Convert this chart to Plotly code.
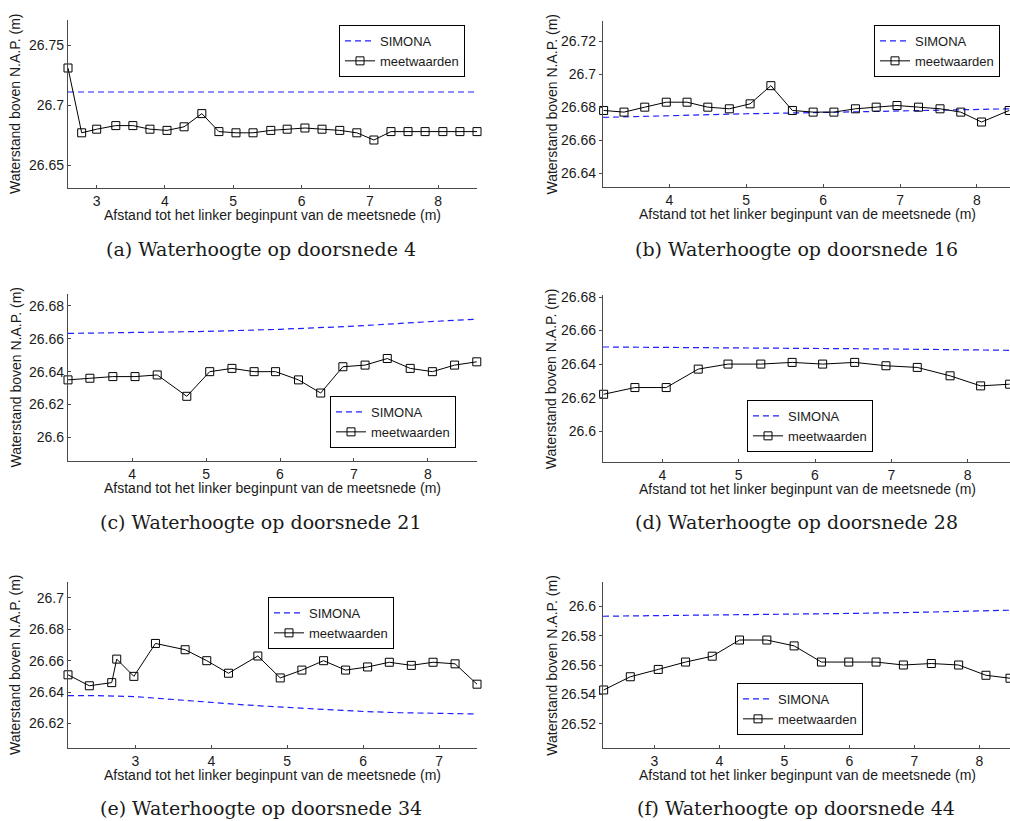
import plotly.graph_objects as go

# ---------------------------------------------------------------- data
# (a) doorsnede 4
a_x = [2.58, 2.78, 3.00, 3.28, 3.53, 3.78, 4.03, 4.28, 4.54, 4.79, 5.04, 5.29, 5.55,
       5.79, 6.05, 6.30, 6.56, 6.81, 7.06, 7.31, 7.56, 7.81, 8.07, 8.32, 8.57]
a_meet = [26.731, 26.677, 26.680, 26.683, 26.683, 26.680, 26.679, 26.682, 26.693, 26.678,
          26.677, 26.677, 26.679, 26.680, 26.681, 26.680, 26.679, 26.677, 26.671, 26.678,
          26.678, 26.678, 26.678, 26.678, 26.678]
a_sim_x = [2.58, 8.57]
a_sim = [26.711, 26.711]

# (b) doorsnede 16
b_x = [3.145, 3.41, 3.68, 3.96, 4.23, 4.50, 4.78, 5.05, 5.32, 5.60, 5.87, 6.14, 6.42,
       6.69, 6.96, 7.24, 7.52, 7.79, 8.06, 8.42]
b_meet = [26.678, 26.677, 26.680, 26.683, 26.683, 26.680, 26.679, 26.682, 26.693, 26.678,
          26.677, 26.677, 26.679, 26.680, 26.681, 26.680, 26.679, 26.677, 26.671, 26.678]
b_sim_x = [3.14, 4.0, 5.0, 6.0, 7.0, 8.0, 8.43]
b_sim = [26.6738, 26.6750, 26.6760, 26.6768, 26.6777, 26.6786, 26.6790]

# (c) doorsnede 21
c_x = [3.134, 3.43, 3.74, 4.04, 4.34, 4.74, 5.05, 5.35, 5.65, 5.94, 6.25, 6.55, 6.85,
       7.15, 7.45, 7.76, 8.06, 8.36, 8.66]
c_meet = [26.635, 26.636, 26.637, 26.637, 26.638, 26.625, 26.640, 26.642, 26.640, 26.640,
          26.635, 26.627, 26.643, 26.644, 26.648, 26.642, 26.640, 26.644, 26.646]
c_sim_x = [3.134, 4.0, 5.0, 6.0, 7.0, 8.0, 8.663]
c_sim = [26.6633, 26.6638, 26.6645, 26.6658, 26.6677, 26.6704, 26.6720]

# (d) doorsnede 28
d_x = [3.23, 3.64, 4.05, 4.47, 4.86, 5.29, 5.70, 6.10, 6.52, 6.93, 7.34, 7.77, 8.17, 8.55]
d_meet = [26.622, 26.626, 26.626, 26.637, 26.640, 26.640, 26.641, 26.640, 26.641, 26.639,
          26.638, 26.633, 26.627, 26.628]
d_sim_x = [3.222, 4.0, 5.0, 6.0, 7.0, 8.0, 8.555]
d_sim = [26.6502, 26.6500, 26.6497, 26.6494, 26.6490, 26.6485, 26.6482]

# (e) doorsnede 34
e_x = [2.112, 2.393, 2.688, 2.754, 2.98, 3.264, 3.655, 3.94, 4.226, 4.613, 4.908, 5.193,
       5.479, 5.769, 6.059, 6.345, 6.635, 6.921, 7.211, 7.50]
e_meet = [26.651, 26.644, 26.646, 26.661, 26.650, 26.671, 26.667, 26.660, 26.652, 26.663,
          26.649, 26.654, 26.660, 26.654, 26.656, 26.659, 26.657, 26.659, 26.658, 26.645]
e_sim_x = [2.112, 2.5, 3.0, 3.5, 4.0, 4.5, 5.0, 5.5, 6.0, 6.5, 7.0, 7.5]
e_sim = [26.6377, 26.6377, 26.6371, 26.6352, 26.6331, 26.6316, 26.6302, 26.6288, 26.6276,
         26.6268, 26.6263, 26.6260]

# (f) doorsnede 44
f_x = [2.22, 2.63, 3.06, 3.48, 3.89, 4.31, 4.73, 5.15, 5.57, 5.99, 6.41, 6.83, 7.26, 7.68,
       8.10, 8.47]
f_meet = [26.543, 26.552, 26.557, 26.562, 26.566, 26.577, 26.577, 26.573, 26.562, 26.562,
          26.562, 26.560, 26.561, 26.560, 26.553, 26.551]
f_sim_x = [2.21, 3.0, 4.0, 5.0, 6.0, 7.0, 8.0, 8.47]
f_sim = [26.5932, 26.5935, 26.5940, 26.5945, 26.5951, 26.5958, 26.5967, 26.5973]

# axis ranges and tick labels per panel
x_ranges = [[2.58, 8.57], [3.137, 8.43], [3.134, 8.663], [3.222, 8.555], [2.112, 7.50], [2.21, 8.47]]
y_ranges = [[26.631, 26.771], [26.6317, 26.7323], [26.5856, 26.6873],
            [26.5816, 26.6812], [26.6043, 26.7102], [26.5035, 26.6165]]
x_ticks = [[3, 4, 5, 6, 7, 8], [4, 5, 6, 7, 8], [4, 5, 6, 7, 8], [4, 5, 6, 7, 8],
           [3, 4, 5, 6, 7], [3, 4, 5, 6, 7, 8]]
y_ticks = [[26.65, 26.70, 26.75], [26.64, 26.66, 26.68, 26.70, 26.72],
           [26.60, 26.62, 26.64, 26.66, 26.68], [26.60, 26.62, 26.64, 26.66, 26.68],
           [26.62, 26.64, 26.66, 26.68, 26.70], [26.52, 26.54, 26.56, 26.58, 26.60]]
y_ticktext = [["26.65", "26.7", "26.75"], ["26.64", "26.66", "26.68", "26.7", "26.72"],
              ["26.6", "26.62", "26.64", "26.66", "26.68"], ["26.6", "26.62", "26.64", "26.66", "26.68"],
              ["26.62", "26.64", "26.66", "26.68", "26.7"], ["26.52", "26.54", "26.56", "26.58", "26.6"]]
captions = ["(a) Waterhoogte op doorsnede 4", "(b) Waterhoogte op doorsnede 16",
            "(c) Waterhoogte op doorsnede 21", "(d) Waterhoogte op doorsnede 28",
            "(e) Waterhoogte op doorsnede 34", "(f) Waterhoogte op doorsnede 44"]
x_title = "Afstand tot het linker beginpunt van de meetsnede (m)"
y_title = "Waterstand boven N.A.P. (m)"

panels = [(a_x, a_meet, a_sim_x, a_sim), (b_x, b_meet, b_sim_x, b_sim),
          (c_x, c_meet, c_sim_x, c_sim), (d_x, d_meet, d_sim_x, d_sim),
          (e_x, e_meet, e_sim_x, e_sim), (f_x, f_meet, f_sim_x, f_sim)]

# ---------------------------------------------------------------- layout (pixels)
W, H = 1010, 821
# plot areas: left, right, top, bottom
boxes = [(68, 477, 20, 188), (603, 1010, 20.7, 187),
         (68, 477, 294, 461), (603, 1010, 295, 462),
         (68, 477, 582, 748), (603, 1010, 582, 748)]
# legend top-left corners
legend_pos = [(339, 25), (874, 25), (330, 396), (747, 400), (268, 597), (737, 683)]
caption_pos = [(261, 249), (796, 249), (261, 522), (796, 522), (261, 808), (796, 808)]

FONT = "Liberation Sans, Arial, sans-serif"
AXIS_COLOR = "#4a4a4a"
TEXT_COLOR = "#1a1a1a"

fig = go.Figure()
annotations = []
layout = dict(
    width=W, height=H, margin=dict(l=0, r=0, t=0, b=0, autoexpand=False),
    paper_bgcolor="white", plot_bgcolor="white",
    font=dict(family=FONT, size=14, color=TEXT_COLOR),
)

for i, (px, meet, sx, sim) in enumerate(panels):
    n = "" if i == 0 else str(i + 1)
    xa, ya = "x" + n, "y" + n
    lg = "legend" + n
    left, right, top, bottom = boxes[i]

    fig.add_trace(go.Scatter(
        x=sx, y=sim, mode="lines", name="SIMONA", xaxis=xa, yaxis=ya, legend=lg,
        line=dict(color="#1f1fff", width=1.2, dash="6px,4px"), cliponaxis=False,
    ))
    fig.add_trace(go.Scatter(
        x=px, y=meet, mode="lines+markers", name="meetwaarden", xaxis=xa, yaxis=ya, legend=lg,
        line=dict(color="black", width=1),
        marker=dict(symbol="square-open", size=8, color="black", line=dict(width=1)),
        cliponaxis=False,
    ))

    layout["xaxis" + n] = dict(
        domain=[left / W, right / W], anchor=ya, range=x_ranges[i],
        tickvals=x_ticks[i], ticktext=[str(t) for t in x_ticks[i]],
        ticks="inside", ticklen=3, tickcolor=AXIS_COLOR,
        showline=True, linecolor=AXIS_COLOR, linewidth=1.3,
        showgrid=False, zeroline=False, tickfont=dict(size=14),
    )
    layout["yaxis" + n] = dict(
        domain=[1 - bottom / H, 1 - top / H], anchor=xa, range=y_ranges[i],
        tickvals=y_ticks[i], ticktext=y_ticktext[i],
        ticks="inside" if i % 2 == 0 else "outside", ticklen=3, tickcolor=AXIS_COLOR,
        showline=True, linecolor=AXIS_COLOR, linewidth=1.3,
        showgrid=False, zeroline=False, tickfont=dict(size=14),
    )
    lx, ly = legend_pos[i]
    layout[lg] = dict(
        x=lx / W, y=1 - ly / H, xref="paper", yref="paper",
        xanchor="left", yanchor="top",
        bgcolor="white", bordercolor="black", borderwidth=1,
        font=dict(family=FONT, size=13, color=TEXT_COLOR),
        itemwidth=30, tracegroupgap=0,
    )

    # axis titles
    cx = 272.5 if i % 2 == 0 else 807.7
    annotations.append(dict(
        text=x_title, xref="paper", yref="paper", x=cx / W, y=1 - (bottom + 27) / H,
        showarrow=False, xanchor="center", yanchor="middle",
        font=dict(family=FONT, size=14, color=TEXT_COLOR),
    ))
    tx = 15 if i % 2 == 0 else 551.7
    annotations.append(dict(
        text=y_title, xref="paper", yref="paper", x=tx / W, y=1 - ((top + bottom) / 2) / H,
        showarrow=False, xanchor="center", yanchor="middle", textangle=-90,
        font=dict(family=FONT, size=14, color=TEXT_COLOR),
    ))
    # sub-figure caption
    capx, capy = caption_pos[i]
    annotations.append(dict(
        text=captions[i], xref="paper", yref="paper", x=capx / W, y=1 - capy / H,
        showarrow=False, xanchor="center", yanchor="middle",
        font=dict(family="DejaVu Serif, serif", size=19, color=TEXT_COLOR),
    ))

layout["annotations"] = annotations
fig.update_layout(**layout)
fig.write_html("out.html")
